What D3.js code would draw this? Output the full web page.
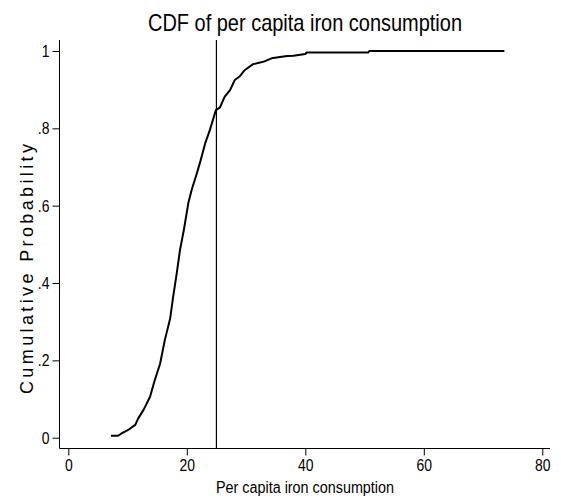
<!DOCTYPE html>
<html>
<head>
<meta charset="utf-8">
<script src="https://cdn.jsdelivr.net/npm/d3@7/dist/d3.min.js"></script>
<style>
  html, body { margin: 0; padding: 0; background: #fff; }
  svg { display: block; }
  text { font-family: "Liberation Sans", Arial, sans-serif; fill: #000; }
</style>
</head>
<body>
<svg id="chart" width="561" height="502"></svg>
<script>
// Empirical CDF of per capita iron consumption (consumption, cumulative share)
const consumption = [7.2, 8.4, 9.0, 10.1, 11.3, 11.8, 12.7, 13.8, 14.6, 15.5, 16.3, 17.2, 17.7, 18.3, 18.85, 19.5,
  20.25, 20.8, 21.7, 22.2, 23.1, 23.9, 24.9, 25.6, 26.4, 27.3, 28.1, 28.9, 29.8, 31.2, 32.9, 34.3, 36.9, 38.0,
  40.0, 40.2, 50.6, 50.8, 73.6];
const cumulative = [0.005, 0.005, 0.011, 0.02, 0.033, 0.05, 0.072, 0.106, 0.149, 0.192, 0.253, 0.309, 0.365, 0.425, 0.485, 0.537,
  0.606, 0.64, 0.684, 0.71, 0.761, 0.796, 0.847, 0.854, 0.882, 0.899, 0.925, 0.934, 0.951, 0.966, 0.972, 0.981, 0.987, 0.988,
  0.992, 0.996, 0.996, 1.0, 1.0];
const xTicks = [0, 20, 40, 60, 80];
const yTicks = [0, 0.2, 0.4, 0.6, 0.8, 1];
const yTickLabels = ["0", ".2", ".4", ".6", ".8", "1"];
const referenceLine = 25;

const titleText = "CDF of per capita iron consumption";
const xTitle = "Per capita iron consumption";
const yTitle = "Cumulative Probability";

const svg = d3.select("#chart");

// plot frame
const frame = { left: 59.5, right: 550, top: 40, bottom: 448.5 };

const x = d3.scaleLinear().domain([0, 80]).range([68.3, 542.3]);
const y = d3.scaleLinear().domain([0, 1]).range([437.7, 51]);

// condense glyphs horizontally, like the narrow graph font
function condense(sel, factor) {
  sel.each(function () {
    const len = this.getComputedTextLength();
    d3.select(this).attr("textLength", len * factor).attr("lengthAdjust", "spacingAndGlyphs");
  });
}

// axis lines
svg.append("line")
  .attr("x1", frame.left).attr("x2", frame.left)
  .attr("y1", frame.top).attr("y2", frame.bottom)
  .attr("stroke", "#000").attr("stroke-width", 1);
svg.append("line")
  .attr("x1", frame.left).attr("x2", frame.right)
  .attr("y1", frame.bottom).attr("y2", frame.bottom)
  .attr("stroke", "#000").attr("stroke-width", 1);

// y axis
const yAxis = svg.append("g")
  .attr("transform", `translate(${frame.left},0)`)
  .call(d3.axisLeft(y).tickValues(yTicks).tickSize(7).tickPadding(3)
    .tickFormat((d, i) => yTickLabels[i]));
yAxis.select(".domain").remove();
yAxis.selectAll(".tick line").attr("stroke", "#000");
yAxis.selectAll(".tick text").attr("font-size", 17).attr("font-family", "Liberation Sans, Arial, sans-serif")
  .attr("fill", "#000").call(condense, 0.82);

// x axis
const xAxis = svg.append("g")
  .attr("transform", `translate(0,${frame.bottom})`)
  .call(d3.axisBottom(x).tickValues(xTicks).tickSize(7).tickPadding(3).tickFormat(d3.format("d")));
xAxis.select(".domain").remove();
xAxis.selectAll(".tick line").attr("stroke", "#000");
xAxis.selectAll(".tick text").attr("font-size", 17).attr("font-family", "Liberation Sans, Arial, sans-serif")
  .attr("fill", "#000").call(condense, 0.82);

// reference line at 25
svg.append("line")
  .attr("x1", x(referenceLine)).attr("x2", x(referenceLine))
  .attr("y1", frame.top).attr("y2", frame.bottom)
  .attr("stroke", "#000").attr("stroke-width", 1.2);

// CDF curve
const pts = consumption.map((c, i) => [c, cumulative[i]]);
svg.append("path")
  .datum(pts)
  .attr("fill", "none")
  .attr("stroke", "#000")
  .attr("stroke-width", 2)
  .attr("stroke-linejoin", "round")
  .attr("d", d3.line().x(d => x(d[0])).y(d => y(d[1])));

// titles
svg.append("text")
  .attr("x", 305).attr("y", 30.7)
  .attr("text-anchor", "middle")
  .attr("font-size", 24)
  .attr("textLength", 314).attr("lengthAdjust", "spacingAndGlyphs")
  .text(titleText);

svg.append("text")
  .attr("x", 305).attr("y", 493.3)
  .attr("text-anchor", "middle")
  .attr("font-size", 16)
  .attr("textLength", 178).attr("lengthAdjust", "spacingAndGlyphs")
  .text(xTitle);

svg.append("text")
  .attr("transform", "translate(33,269) rotate(-90)")
  .attr("text-anchor", "middle")
  .attr("font-size", 18)
  .attr("textLength", 250).attr("lengthAdjust", "spacing")
  .text(yTitle);
</script>
</body>
</html>
